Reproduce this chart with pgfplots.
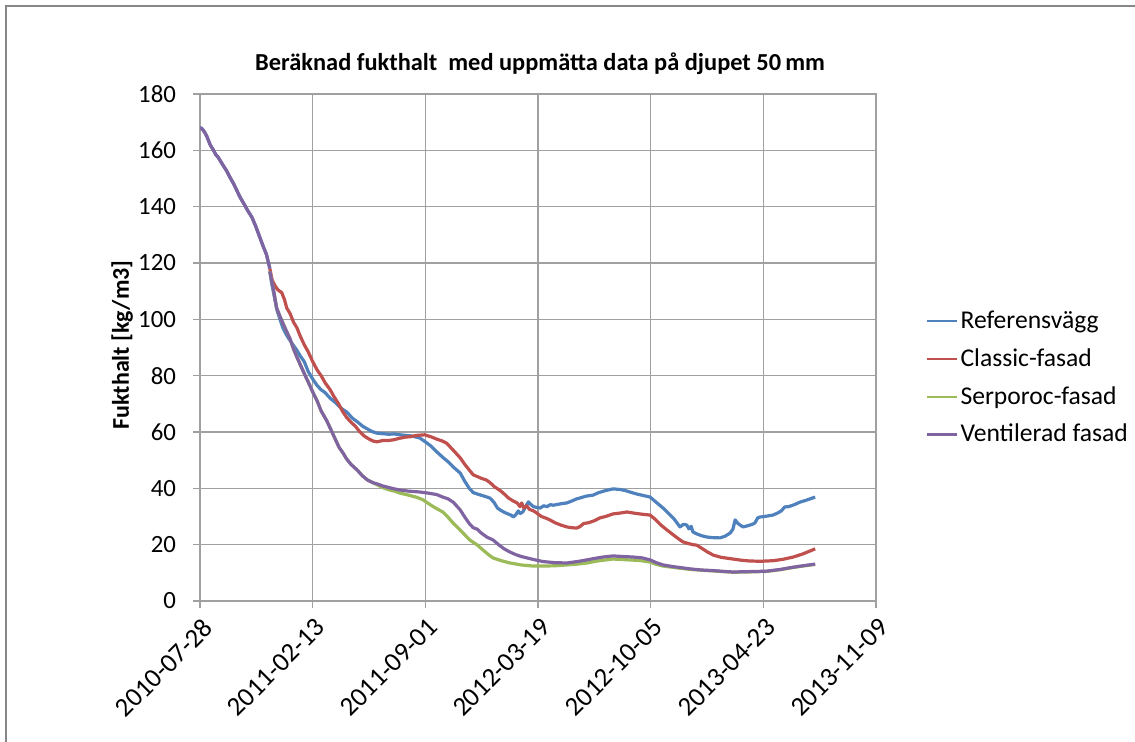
\documentclass[border=0pt]{standalone}
\usepackage{fontspec}
\setmainfont{Carlito}
\usepackage{pgfplots}
\pgfplotsset{compat=1.18}
\definecolor{sRef}{HTML}{4F81BD}
\definecolor{sCla}{HTML}{C0504D}
\definecolor{sSer}{HTML}{9BBB59}
\definecolor{sVen}{HTML}{8064A2}
\definecolor{gridc}{RGB}{160,160,160}
\definecolor{framec}{RGB}{134,134,134}

% days since 2010-07-28
\pgfplotstableread{
d v
0 168
3 167.8
8 166.5
12 165
18 162
24 160
28 158.5
32 157.6
40 155
47 152.8
53 150.5
60 148
66 145.5
71 143.4
78 141
85 138.5
92 136.3
99 133
106 129.2
112 126
118 123
124 118
}\common

\pgfplotstableread{
d v
124 118
128 114
133 112
138 110.5
145 109.5
150 107
154 104
160 102
166 99
172 97
178 94
185 91
192 88.5
200 85
208 82
215 80
222 77.5
231 75
238 72.5
246 70
254 67
261 65
268 63.5
276 62
284 60
292 58.5
300 57.5
307 56.8
314 56.5
325 57
335 57
343 57.2
355 57.8
365 58.2
373 58.3
385 58.8
399 59
410 58.3
420 57.5
430 56.8
438 56
445 54.5
452 53
462 50.8
470 48.5
478 46.5
485 44.8
492 44.2
500 43.5
508 43
515 42
523 40.5
533 39.2
540 38
548 36.5
556 35.5
563 34.8
568 33.5
571 34.8
575 33
580 33.8
585 32.5
592 32
598 31.2
606 30
613 29.5
621 28.8
630 27.8
640 27
651 26.3
660 26
669 25.9
675 26.5
681 27.5
690 27.8
700 28.5
710 29.5
720 30
733 30.9
745 31.2
758 31.6
770 31.2
785 30.8
799 30.5
808 29
818 27
829 25.2
840 23.5
850 22
857 21
865 20.5
875 20
882 19.8
890 18.8
900 17.5
911 16.3
925 15.5
946 14.9
960 14.5
976 14.2
995 14.1
1017 14.3
1035 14.8
1053 15.6
1070 16.7
1092 18.5
}\classic

\pgfplotstableread{
d v
124 117
127 113
130 110
133 107
137 103
142 100
147 97
152 95
158 93
165 91
172 89
178 87
185 85
192 81.5
201 78.5
208 76.5
215 75
222 74
231 72
240 70.5
250 68.5
261 67
270 65
280 63.5
289 62
298 61
305 60.2
314 59.6
325 59.4
335 59.2
345 59.3
355 59
365 58.8
375 58.6
390 57.9
400 56.5
410 55
420 53
431 51
440 49.5
450 47.5
462 45.4
470 42.5
478 40
485 38.5
492 38
500 37.5
508 37
515 36.5
522 35
528 33
533 32.3
540 31.5
548 30.8
553 30.4
556 29.8
560 30.5
565 32
568 31
573 31.6
578 33.5
583 35.2
586 34.5
592 33.5
598 33.2
604 33
610 33.8
616 33.5
622 34.2
627 34
635 34.3
643 34.6
651 34.8
660 35.5
668 36.2
675 36.6
685 37.2
698 37.6
708 38.5
720 39.2
733 39.8
745 39.6
755 39.2
763 38.7
775 38
788 37.4
799 36.9
810 35
822 33
832 31
842 29
852 26.3
858 27.2
864 27
868 25.6
872 26.5
875 24.5
882 23.8
890 23.2
900 22.7
910 22.5
923 22.4
932 23
941 24.1
946 25.5
950 28.8
955 27.5
960 26.8
964 26.3
972 26.7
980 27.2
985 27.7
990 29.5
994 29.8
1005 30.1
1017 30.5
1025 31.2
1032 32
1038 33.4
1045 33.5
1055 34.2
1065 35.1
1075 35.7
1085 36.4
1092 36.9
}\referens

\pgfplotstableread{
d v
124 117
130 111
136 104
142 101
147 98.7
153 96
160 93
166 89.5
172 86.6
180 83
188 79.5
195 76.5
201 73.8
208 71
215 67.5
225 64
232 61
240 57.5
247 54.5
254 52.5
260 50.5
268 48.5
279 46.5
288 44.5
297 43
307 42
314 41.3
325 40.2
335 39.5
345 39
355 38.3
370 37.6
385 36.8
396 35.9
410 34
420 32.8
431 31.6
440 29.8
450 27.5
462 25.2
470 23.5
480 21.5
492 19.9
500 18.5
510 16.8
520 15.3
535 14.3
550 13.5
570 12.8
591 12.4
610 12.4
630 12.5
651 12.8
670 13.1
687 13.5
705 14.2
733 14.9
760 14.6
780 14.4
799 13.8
810 13
822 12.4
845 11.8
870 11.2
900 10.8
946 10.2
975 10.3
1006 10.5
1030 11.1
1050 11.8
1070 12.4
1092 13.0
}\serporoc

\pgfplotstableread{
d v
124 117
130 111
136 104
142 101
147 98.7
153 96
160 93
166 89.5
172 86.6
180 83
188 79.5
195 76.5
201 73.8
208 71
215 67.5
225 64
232 61
240 57.5
247 54.5
254 52.5
260 50.5
268 48.5
279 46.5
288 44.5
297 43
307 42
314 41.6
325 40.8
335 40.3
345 39.8
355 39.4
370 39
390 38.7
405 38.3
420 37.8
431 36.9
440 36.3
450 35
462 32.3
470 29.8
478 27.5
485 26
492 25.5
500 24
510 22.6
520 21.7
530 20
540 18.5
550 17.4
560 16.5
570 15.8
580 15.3
595 14.6
609 14
630 13.6
651 13.5
670 14
687 14.6
700 15.1
715 15.6
733 16
750 15.8
769 15.6
785 15.3
799 14.6
810 13.6
822 12.8
840 12.2
855 11.8
870 11.4
890 11
910 10.8
930 10.5
946 10.3
970 10.4
990 10.5
1006 10.6
1030 11.2
1050 11.9
1070 12.5
1092 13.1
}\ventilerad

\begin{document}
\begin{tikzpicture}
\useasboundingbox (0,0) rectangle (567.5pt,371pt);
\draw[framec, line width=1pt] (3pt,0) -- (3pt,368pt) -- (567.5pt,368pt);
\begin{axis}[
  at={(100pt,70.5pt)}, anchor=south west,
  scale only axis, width=338pt, height=253.5pt,
  xmin=0, xmax=1200, ymin=0, ymax=180,
  xtick={0,200,...,1200},
  xticklabels={2010-07-28,2011-02-13,2011-09-01,2012-03-19,2012-10-05,2013-04-23,2013-11-09},
  ytick={0,20,...,180},
  /pgf/number format/assume math mode=true,
  tick label style={font=\fontsize{12.4}{14}\selectfont, black},
  yticklabel style={xshift=-5pt},
  xticklabel style={font=\fontsize{13.4}{15}\selectfont, anchor=north east, xshift=0.7pt, yshift=0.5pt, rotate=45},
  grid=major,
  major grid style={gridc, line width=0.75pt},
  axis line style={gridc, line width=0.75pt},
  tick style={gridc, line width=0.75pt},
  tick align=outside, tick pos=left,
  major tick length=3.5pt,
  title={Beräknad fukthalt\ \ med uppmätta data på djupet 50\,mm},
  title style={font=\bfseries\fontsize{12.2}{14}\selectfont, at={(axis description cs:0.503,1.037)}, anchor=center},
  ylabel={Fukthalt [kg/m3]},
  ylabel style={font=\bfseries\fontsize{12}{14}\selectfont, at={(axis description cs:-0.115,0.505)}, anchor=center},
  legend style={draw=none, fill=none, at={(axis description cs:1.065,0.44)}, anchor=west,
    font=\fontsize{12.8}{15}\selectfont, row sep=6.5pt, nodes={inner sep=1pt}},
  legend cell align=left,
  legend image code/.code={\draw[#1, line width=1.1pt] (0pt,0pt) -- (15pt,0pt);},
  every axis plot/.append style={line width=1.6pt, line join=round},
]
\addplot[sRef, forget plot] table[x=d,y=v] {\common};
\addplot[sRef] table[x=d,y=v] {\referens};
\addlegendentry{Referensvägg}
\addplot[sCla] table[x=d,y=v] {\classic};
\addlegendentry{Classic-fasad}
\addplot[sSer] table[x=d,y=v] {\serporoc};
\addlegendentry{Serporoc-fasad}
\addplot[sVen] table[x=d,y=v] {\ventilerad};
\addlegendentry{Ventilerad fasad}
\addplot[sVen, forget plot] table[x=d,y=v] {\common};
\end{axis}
\end{tikzpicture}
\end{document}
